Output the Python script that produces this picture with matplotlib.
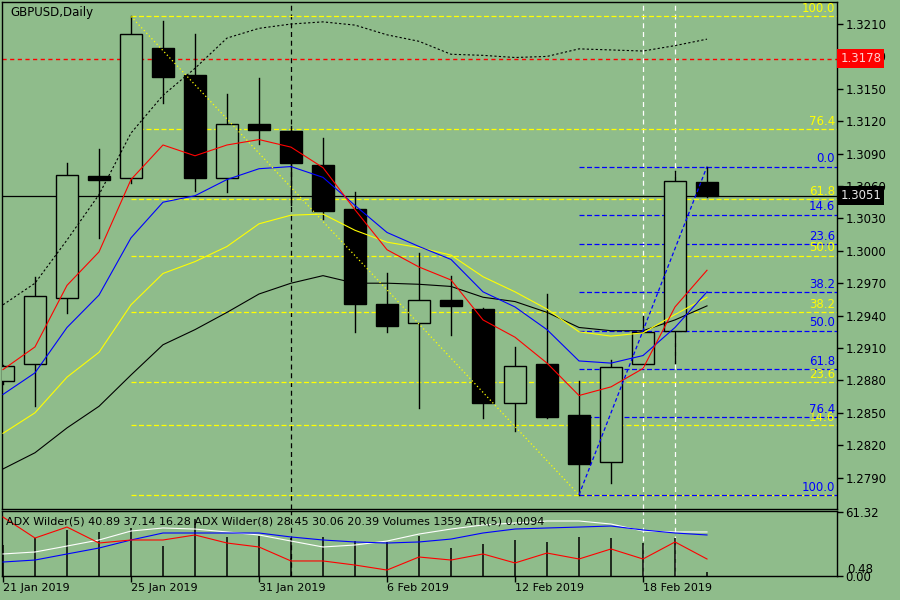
import matplotlib
matplotlib.use('Agg')
import matplotlib.pyplot as plt
import matplotlib.transforms as mtransforms
from matplotlib.patches import Rectangle

# GBPUSD daily bars, 21 Jan - 20 Feb 2019
dates = ['21 Jan 2019', '22 Jan 2019', '23 Jan 2019', '24 Jan 2019', '25 Jan 2019',
         '28 Jan 2019', '29 Jan 2019', '30 Jan 2019', '31 Jan 2019', '1 Feb 2019',
         '4 Feb 2019', '5 Feb 2019', '6 Feb 2019', '7 Feb 2019', '8 Feb 2019',
         '11 Feb 2019', '12 Feb 2019', '13 Feb 2019', '14 Feb 2019', '15 Feb 2019',
         '18 Feb 2019', '19 Feb 2019', '20 Feb 2019']
opens = [1.2879, 1.2895, 1.2956, 1.3069, 1.3067, 1.3188, 1.3163, 1.3067, 1.3117, 1.3111,
         1.3079, 1.3039, 1.2951, 1.2933, 1.2954, 1.2946, 1.2859, 1.2895, 1.2848, 1.2804,
         1.2895, 1.2926, 1.3064]
highs = [1.2894, 1.2976, 1.3081, 1.3094, 1.3217, 1.3213, 1.3201, 1.3145, 1.3160, 1.3116,
         1.3104, 1.3054, 1.2979, 1.2998, 1.2977, 1.2947, 1.2911, 1.2960, 1.2879, 1.2899,
         1.2940, 1.3074, 1.3078]
lows = [1.2877, 1.2856, 1.2942, 1.3012, 1.3063, 1.3137, 1.3055, 1.3054, 1.3099, 1.3042,
        1.3029, 1.2925, 1.2925, 1.2854, 1.2922, 1.2845, 1.2833, 1.2845, 1.2774, 1.2785,
        1.2895, 1.2896, 1.3050]
closes = [1.2893, 1.2958, 1.3070, 1.3066, 1.3201, 1.3161, 1.3067, 1.3117, 1.3112, 1.3081,
          1.3037, 1.2951, 1.2930, 1.2954, 1.2949, 1.2859, 1.2893, 1.2846, 1.2803, 1.2892,
          1.2925, 1.3065, 1.3051]

# moving averages
ma_red = [1.2890, 1.2911, 1.2968, 1.2999, 1.3066, 1.3098, 1.3088, 1.3098, 1.3103, 1.3096,
          1.3077, 1.3038, 1.3001, 1.2985, 1.2973, 1.2936, 1.2920, 1.2896, 1.2866, 1.2874,
          1.2891, 1.2948, 1.2982]
ma_blue = [1.2867, 1.2887, 1.2929, 1.2959, 1.3012, 1.3045, 1.3051, 1.3066, 1.3076, 1.3078,
           1.3068, 1.3042, 1.3017, 1.3004, 1.2992, 1.2962, 1.2948, 1.2927, 1.2898, 1.2896,
           1.2903, 1.2929, 1.2962]
ma_yellow = [1.2831, 1.2850, 1.2883, 1.2906, 1.2950, 1.2979, 1.2990, 1.3004, 1.3025, 1.3033,
             1.3034, 1.3019, 1.3008, 1.3003, 1.2996, 1.2976, 1.2962, 1.2946, 1.2925, 1.2921,
             1.2924, 1.2941, 1.2957]
ma_black = [1.2798, 1.2813, 1.2836, 1.2856, 1.2885, 1.2913, 1.2927, 1.2943, 1.2960, 1.2970,
            1.2977, 1.2970, 1.2970, 1.2969, 1.2967, 1.2957, 1.2953, 1.2943, 1.2929, 1.2926,
            1.2926, 1.2936, 1.2949]
upper_band = [1.2950, 1.2970, 1.3010, 1.3052, 1.3109, 1.3144, 1.3169, 1.3197, 1.3206, 1.3210,
              1.3212, 1.3209, 1.3200, 1.3194, 1.3182, 1.3181, 1.3179, 1.3180, 1.3187, 1.3186,
              1.3185, 1.3190, 1.3196]

alert_price = 1.3178
fib_levels = [0.0, 14.6, 23.6, 38.2, 50.0, 61.8, 76.4, 100.0]

# sub window
volumes = [10620, 13020, 15770, 15090, 16450, 10260, 19530, 13370, 13700, 13020, 13370,
           11980, 11660, 13700, 9580, 10980, 12340, 11660, 13370, 13020, 11300, 13020, 1359]
adx_red = [56.5, 36.4, 46.9, 31.6, 34.5, 34.5, 39.3, 31.6, 27.8, 14.4, 14.4, 10.5, 5.7,
           18.2, 15.3, 21.1, 12.5, 22.0, 16.3, 25.9, 16.3, 32.6, 16.28]
adx_blue = [13.4, 15.3, 21.1, 26.8, 34.5, 41.2, 41.2, 41.2, 41.2, 37.4, 34.5, 32.6, 31.6,
            32.6, 35.4, 41.2, 45.0, 46.0, 46.9, 47.9, 44.1, 41.2, 39.3]
adx_white = [21.1, 23.0, 28.7, 34.5, 43.1, 46.0, 45.0, 42.2, 39.3, 33.5, 27.8, 29.7, 33.5,
             40.2, 45.0, 48.9, 50.8, 52.7, 52.7, 49.8, 43.1, 42.2, 42.2]
sub_max = 61.32
vol_full = 21930  # volume that fills the window height
sub_text = ('ADX Wilder(5) 40.89 37.14 16.28 ADX Wilder(8) 28.45 30.06 20.39 '
            'Volumes 1359 ATR(5) 0.0094')

bg = '#8fbc8b'
n = len(dates)
x = list(range(n))
W, H = 900, 600

fig = plt.figure(figsize=(9, 6), dpi=100, facecolor=bg)
ax = fig.add_axes([2 / W, (H - 509) / H, 835 / W, 507 / H], facecolor=bg)
ax2 = fig.add_axes([2 / W, (H - 576) / H, 835 / W, 65 / H], facecolor=bg)

xmin, xmax = -1 / 32, 834 / 32
ax.set_xlim(xmin, xmax)
ax.set_ylim(1.27609, 1.32304)
ax2.set_xlim(xmin, xmax)
ax2.set_ylim(0, sub_max * 65 / 64)

for a in (ax, ax2):
    for s in a.spines.values():
        s.set_color('black')
        s.set_linewidth(1)

# candles
bw = 0.69
for i in x:
    o, h, l, c = opens[i], highs[i], lows[i], closes[i]
    ax.plot([i, i], [l, h], color='black', lw=1, zorder=2)
    lo, hi = min(o, c), max(o, c)
    fc = bg if c >= o else 'black'
    ax.add_patch(Rectangle((i - bw / 2, lo), bw, max(hi - lo, 0.00005),
                           facecolor=fc, edgecolor='black', lw=1, zorder=3))

# moving averages
ax.plot(x, ma_black, color='black', lw=0.8, zorder=4)
ax.plot(x, ma_yellow, color='yellow', lw=0.8, zorder=4)
ax.plot(x, ma_blue, color='blue', lw=0.8, zorder=4)
ax.plot(x, ma_red, color='red', lw=0.8, zorder=4)
ax.plot(x, upper_band, color='black', lw=0.8, ls=(0, (2, 2)), zorder=4)

# horizontal lines
ax.axhline(alert_price, color='red', lw=1, ls=(0, (3, 2.5)), zorder=1)
ax.axhline(closes[-1], color='black', lw=0.9, zorder=1)

# vertical separators
for a in (ax, ax2):
    a.axvline(9, color='black', lw=0.9, ls=(0, (4, 3)), zorder=1)
    a.axvline(20, color='white', lw=0.9, ls=(0, (4, 3)), zorder=1)
    a.axvline(21, color='white', lw=0.9, ls=(0, (4, 3)), zorder=1)

trans = mtransforms.blended_transform_factory(ax.transAxes, ax.transData)
lab_x = (835 - 2) / 835

# yellow fibo: 25 Jan high -> 14 Feb low
i_hi, i_lo = 4, 18
f_hi, f_lo = highs[i_hi], lows[i_lo]
ax.plot([i_hi, i_lo], [f_hi, f_lo], color='yellow', lw=0.9, ls=(0, (1, 2)), zorder=5)
for p in fib_levels:
    lvl = f_lo + p / 100 * (f_hi - f_lo)
    ax.plot([i_hi, xmax], [lvl, lvl], color='yellow', lw=0.9, ls=(0, (4, 2)), zorder=1)
    if p > 0:
        ax.text(lab_x, lvl + 0.00012, f'{p:.1f}', color='yellow', fontsize=8.5,
                ha='right', va='bottom', transform=trans, zorder=6)

# blue fibo: 14 Feb low -> 20 Feb high
j_lo, j_hi = 18, 22
g_lo, g_hi = lows[j_lo], highs[j_hi]
ax.plot([j_lo, j_hi], [g_lo, g_hi], color='blue', lw=0.9, ls=(0, (3, 2)), zorder=5)
for p in fib_levels:
    lvl = g_hi - p / 100 * (g_hi - g_lo)
    ax.plot([j_lo, xmax], [lvl, lvl], color='blue', lw=0.9, ls=(0, (4, 2)), zorder=1)
    ax.text(lab_x, lvl + 0.00012, f'{p:.1f}', color='blue', fontsize=8.5,
            ha='right', va='bottom', transform=trans, zorder=6)

ax.text(8 / 835, 1 - 4 / 507, 'GBPUSD,Daily', transform=ax.transAxes, fontsize=8.5,
        ha='left', va='top', color='black')

# right price axis
yt = [round(1.2790 + 0.003 * k, 4) for k in range(15)]
ax.yaxis.tick_right()
ax.set_yticks(yt)
ax.set_yticklabels([f'{v:.4f}' for v in yt])
ax.tick_params(axis='y', direction='out', length=4, width=1, colors='black',
               labelsize=8.5, pad=2)
ax.set_xticks([])

ax.text(1.004, alert_price, f'{alert_price:.4f}', transform=trans, fontsize=8.5,
        color='#ffd0d0', ha='left', va='center', zorder=10,
        bbox=dict(boxstyle='square,pad=0.25', facecolor='red', edgecolor='none'))
ax.text(1.004, closes[-1], f'{closes[-1]:.4f}', transform=trans, fontsize=8.5,
        color='#e8e8e8', ha='left', va='center', zorder=10,
        bbox=dict(boxstyle='square,pad=0.25', facecolor='black', edgecolor='none'))

# sub window
scale = sub_max / vol_full
ax2.vlines(x, 0, [v * scale for v in volumes], color='black', lw=1.1, zorder=2)
ax2.plot(x, adx_white, color='white', lw=0.8, zorder=3)
ax2.plot(x, adx_blue, color='blue', lw=0.8, zorder=3)
ax2.plot(x, adx_red, color='red', lw=0.8, zorder=3)
ax2.text(4 / 835, 1 - 5 / 65, sub_text, transform=ax2.transAxes, fontsize=8,
         ha='left', va='top', color='black', zorder=6)

ax2.yaxis.tick_right()
ax2.set_yticks([0, sub_max])
ax2.set_yticklabels(['0.00', f'{sub_max:.2f}'])
ax2.tick_params(axis='y', direction='out', length=4, width=1, colors='black',
                labelsize=8.5, pad=2)
ax2.text(1.012, 6.0, '0.48', transform=mtransforms.blended_transform_factory(
    ax2.transAxes, ax2.transData), fontsize=8.5, ha='left', va='center', color='black')

xt = [0, 4, 8, 12, 16, 20]
ax2.set_xticks(xt)
ax2.set_xticklabels([dates[i] for i in xt])
for t in ax2.get_xticklabels():
    t.set_horizontalalignment('left')
ax2.tick_params(axis='x', direction='out', length=4, width=1, colors='black',
                labelsize=8, pad=1)

fig.savefig('out.png', dpi=100, facecolor=bg)
